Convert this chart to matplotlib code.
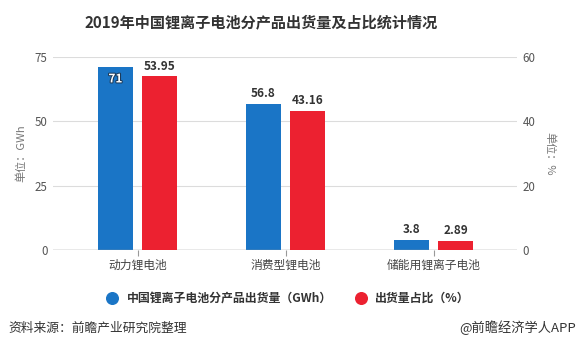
import matplotlib
matplotlib.use("Agg")
import matplotlib.pyplot as plt
import matplotlib.patheffects as pe
import numpy as np

plt.rcParams['font.family'] = ['Noto Sans CJK SC', 'DejaVu Sans']

categories = ["动力锂电池", "消费型锂电池", "储能用锂离子电池"]
shipments = [71, 56.8, 3.8]
shares = [53.95, 43.16, 2.89]
shipment_labels = ["71", "56.8", "3.8"]
share_labels = ["53.95", "43.16", "2.89"]
left_ticks = [0, 25, 50, 75]
right_ticks = [0, 20, 40, 60]

blue = "#1a75c6"
red = "#ec2130"

fig = plt.figure(figsize=(5.77, 3.51), dpi=100)
ax = fig.add_axes([53/577, 1-250/351, 464/577, 193/351])
ax2 = ax.twinx()

x = np.arange(len(categories))
w = 0.237
off = 0.149

ax.bar(x - off, shipments, w, color=blue, zorder=3)
ax2.bar(x + off, shares, w, color=red, zorder=3)

ax.set_xlim(-0.571, 2.564)
ax.set_ylim(0, 75)
ax2.set_ylim(0, 60)
ax.set_yticks(left_ticks)
ax2.set_yticks(right_ticks)

ax.grid(axis='y', color='#dcdcdc', linewidth=0.8, zorder=0)
ax.set_axisbelow(True)
for a in (ax, ax2):
    for s in a.spines.values():
        s.set_visible(False)
ax.axhline(0, color='#999999', linewidth=1.0, zorder=4)

ax.tick_params(axis='y', length=0, labelsize=8.3, labelcolor='#555555', pad=4)
ax2.tick_params(axis='y', length=0, labelsize=8.3, labelcolor='#555555', pad=4)
ax.set_xticks(x)
ax.set_xticklabels(categories, fontsize=8.5, color='#444444')
ax.tick_params(axis='x', length=4, color='#999999', pad=2)

ax.set_ylabel("单位：GWh", fontsize=8, color='#777777', labelpad=6)
ax2.set_ylabel("单位：%", fontsize=8, color='#777777', rotation=270, labelpad=14)

for i, (v, lab) in enumerate(zip(shipments, shipment_labels)):
    if i == 0:
        ax.text(x[i] - off, v - 2, lab, ha='center', va='top', fontsize=8.5, fontweight='bold',
                color='white', zorder=5,
                path_effects=[pe.withStroke(linewidth=1.5, foreground='#1d3b5a')])
    else:
        ax.text(x[i] - off, v + 1.5, lab, ha='center', va='bottom', fontsize=8.5,
                fontweight='bold', color='#333333', zorder=5)
for i, (v, lab) in enumerate(zip(shares, share_labels)):
    ax2.text(x[i] + off, v + 1.2, lab, ha='center', va='bottom', fontsize=8.5,
             fontweight='bold', color='#333333', zorder=5)

lax = fig.add_axes([0, 0, 1, 1], facecolor='none')
lax.set_xlim(0, 577)
lax.set_ylim(351, 0)
lax.axis('off')

lax.text(261, 22, "2019年中国锂离子电池分产品出货量及占比统计情况", ha='center', va='center',
         fontsize=10.9, fontweight='bold', color='#333333')

lax.scatter([112], [298], s=70, color=blue)
lax.text(127, 298, "中国锂离子电池分产品出货量（GWh）", va='center', ha='left', fontsize=8.6,
         fontweight='bold', color='#333333')
lax.scatter([361], [298], s=70, color=red)
lax.text(375, 298, "出货量占比（%）", va='center', ha='left', fontsize=8.6,
         fontweight='bold', color='#333333')

lax.text(8, 328, "资料来源：前瞻产业研究院整理", va='center', ha='left', fontsize=9.2, color='#333333')
lax.text(576, 328, "@前瞻经济学人APP", va='center', ha='right', fontsize=9.5, color='#333333')

fig.savefig("out.png", dpi=100)
